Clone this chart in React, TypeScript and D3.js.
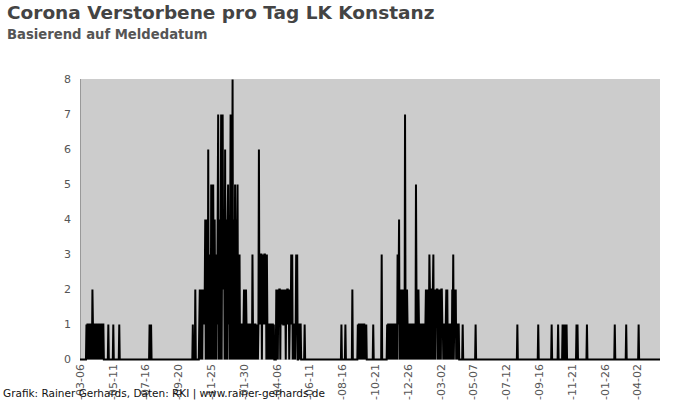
import React from "react";
import * as d3 from "d3";

// ---- Data (daily deaths) ----
const domainStart = "2020-03-06";
const domainEnd = "2023-05-17";

const wave1Start = "2020-03-19";
const wave1Values = [1, 0, 1, 1, 0, 1, 0, 1, 1, 0, 1, 0, 2, 1, 0, 1, 1, 0, 1, 0, 1, 1, 0, 1, 0, 1, 1, 0, 1, 0, 1, 1, 0, 1, 1];

const wave2Start = "2020-10-19";
const wave2Values = [
  1, 0, 0, 0, 0, 2, 0, 0, 0, 0, 0, 0, 0, 1,
  2, 0, 2, 1, 2, 0, 2, 1, 2, 1,
  2, 4, 0, 4, 0, 3,
  0, 6, 0, 3, 1,
  3, 0, 5, 1, 3, 0, 5, 2, 0, 4, 1, 3, 0,
  3, 1, 4, 7, 0, 3, 0, 4,
  3, 7, 0, 4, 7, 3, 2,
  4, 0, 6, 0, 4,
  3, 0, 4, 5, 1,
  4, 0, 3, 7, 0, 4, 3, 8, 0, 4, 2,
  0, 5, 2, 4, 0, 3, 5, 0, 3, 2,
  3, 0, 1, 1, 0, 1, 1, 0, 1, 2, 1, 0, 1, 2, 1,
  0, 1, 1, 0, 1, 0, 1, 1, 0,
  1, 0, 3, 1, 0, 1,
  0, 1, 1, 0, 1, 0,
  1, 0, 1, 6, 1,
  3, 1, 3, 3, 0, 3, 2, 3, 1, 3, 3, 1, 3, 0, 3,
  1, 0, 1, 1, 0, 1, 0, 1, 1, 0, 1, 1, 0, 1,
  0, 0, 0, 0,
  2, 1, 2, 0, 2, 1, 2, 2, 0, 2, 1, 2, 1, 2, 1,
  1,
  2, 1, 2, 0, 2, 1, 2, 2, 1, 2,
  0, 1,
  2, 1, 3, 1, 3, 0,
  1, 0, 1, 1, 0,
  1, 3, 1, 3, 0,
  0, 1, 1, 0, 1, 1, 0,
  0, 0, 0, 0, 0, 0,
  1,
];

const autumn2021Start = "2021-09-16";
const autumn2021Values = [1, 0, 1, 1, 0, 1, 0, 1, 1, 0, 1, 0, 1, 1, 0, 1, 0, 1];

const wave3Start = "2021-11-14";
const wave3Values = [
  1, 0, 1, 1, 0, 1, 0, 1, 1, 0, 1, 0, 1, 1, 0, 1, 1, 0, 1,
  1, 0, 3, 1, 2, 4, 0,
  2, 1, 2,
  0, 2, 0, 2, 1, 2, 0, 7, 1, 2, 0, 2, 1,
  1, 0, 1, 1, 0, 1, 1, 0, 1, 0, 1, 1, 0, 1,
  1, 0, 5, 2, 0, 2, 0, 2,
  1, 0, 1, 1, 0, 1, 0, 1, 1, 0, 1, 1, 0, 1,
  2, 0, 2,
  1, 2, 0, 1, 3, 2,
  0, 2, 2, 0, 1, 2, 3, 0, 2,
  1, 0, 2, 1, 2, 2, 0, 2, 1, 2, 0, 2, 0, 2, 2, 1,
  1, 0, 1, 1, 0,
  1, 1, 2, 0, 2, 0,
  1, 1, 0, 1, 0, 1,
  1, 0, 2, 1, 3, 0, 1, 2, 1, 2, 0,
  1, 1, 0, 1, 1,
  0, 0, 0, 0, 0, 0, 0,
  1,
];

const singleDates = [
  "2020-05-02", "2020-05-12", "2020-05-24", "2020-07-24", "2020-07-27",
  "2021-08-14", "2021-08-22", "2021-09-05", "2021-10-17", "2021-11-03",
  "2022-05-11", "2022-08-03", "2022-09-14", "2022-10-11", "2022-10-24",
  "2022-11-02", "2022-11-04", "2022-11-07", "2022-11-10", "2022-11-30",
  "2022-12-02", "2022-12-21", "2023-02-15", "2023-03-10", "2023-04-04",
];
const singleValues = [1, 1, 1, 1, 1, 1, 1, 2, 1, 3, 1, 1, 1, 1, 1, 1, 1, 1, 1, 1, 1, 1, 1, 1, 1];

const xTickLabels = [
  "2020-03-06", "2020-05-11", "2020-07-16", "2020-09-20", "2020-11-25", "2021-01-30",
  "2021-04-06", "2021-06-11", "2021-08-16", "2021-10-21", "2021-12-26", "2022-03-02",
  "2022-05-07", "2022-07-12", "2022-09-16", "2022-11-21", "2023-01-26", "2023-04-02",
];
const yTicks = [0, 1, 2, 3, 4, 5, 6, 7, 8];

const titleText = "Corona Verstorbene pro Tag LK Konstanz";
const subtitleText = "Basierend auf Meldedatum";
const footerText = "Grafik: Rainer Gerhards, Daten: RKI | www.rainer-gerhards.de";

// ---- Build daily series ----
const parse = d3.utcParse("%Y-%m-%d");
const fmt = d3.utcFormat("%Y-%m-%d");

function buildSeries() {
  const start = parse(domainStart)!;
  const end = parse(domainEnd)!;
  const days = d3.utcDay.range(start, d3.utcDay.offset(end, 1));
  const map = new Map<string, number>();
  days.forEach((d) => map.set(fmt(d), 0));
  const addBlock = (s: string, vals: number[]) => {
    const sd = parse(s)!;
    vals.forEach((v, i) => map.set(fmt(d3.utcDay.offset(sd, i)), v));
  };
  addBlock(wave1Start, wave1Values);
  addBlock(wave2Start, wave2Values);
  addBlock(autumn2021Start, autumn2021Values);
  addBlock(wave3Start, wave3Values);
  singleDates.forEach((s, i) => map.set(s, singleValues[i]));
  return days.map((d) => ({ date: d, value: map.get(fmt(d)) ?? 0 }));
}

const FONT = "'DejaVu Sans', Verdana, sans-serif";

export default function App() {
  const series = buildSeries();
  const left = 80, right = 660, top = 79.5, bottom = 359.5;
  const x = d3.scaleUtc().domain([parse(domainStart)!, parse(domainEnd)!]).range([left, right]);
  const y = d3.scaleLinear().domain([0, 8]).range([bottom, top]);
  const line = d3
    .line<{ date: Date; value: number }>()
    .x((d) => x(d.date))
    .y((d) => y(d.value));

  return (
    <div style={{ position: "absolute", left: 0, top: 0 }}>
      <svg width={700} height={400} style={{ display: "block", background: "#fff" }}>
        <text x={7} y={19} fontFamily={FONT} fontWeight="bold" fontSize={18.5} fill="#444">
          {titleText}
        </text>
        <text x={7} y={38.5} fontFamily={FONT} fontWeight="bold" fontSize={13.2} fill="#555">
          {subtitleText}
        </text>
        <rect x={left} y={79} width={right - left} height={281} fill="#cccccc" />
        <line x1={left + 0.5} x2={left + 0.5} y1={79} y2={360} stroke="#999" strokeWidth={1} />
        {yTicks.map((t) => (
          <text key={t} x={71} y={y(t)} dy="0.35em" textAnchor="end" fontFamily={FONT} fontSize={11} fill="#555">
            {t}
          </text>
        ))}
        <path d={line(series) || ""} fill="none" stroke="#000" strokeWidth={2} />
        {xTickLabels.map((s) => (
          <text
            key={s}
            transform={`translate(${x(parse(s)!)},364) rotate(-90)`}
            dy="0.35em"
            textAnchor="end"
            fontFamily={FONT}
            fontSize={11}
            fill="#555"
          >
            {s}
          </text>
        ))}
        <text x={3} y={397} fontFamily={FONT} fontSize={10.5} fill="#111">
          {footerText}
        </text>
      </svg>
    </div>
  );
}
